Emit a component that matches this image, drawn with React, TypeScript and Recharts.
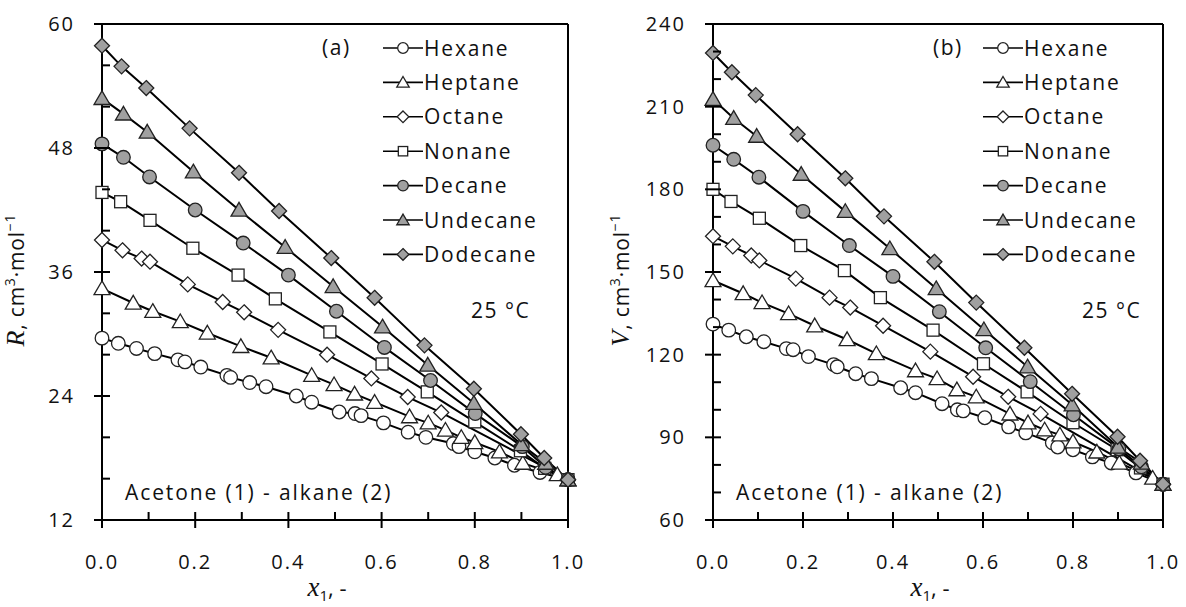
import React from "react"
import { LineChart, Line, XAxis, YAxis, ReferenceLine, Customized } from "recharts"

// mole fraction of acetone, x1, for each acetone (1) + alkane (2) system
const hexaneX = [0, 0.035, 0.074, 0.113, 0.163, 0.178, 0.212, 0.268, 0.276, 0.317, 0.352, 0.417, 0.45, 0.509, 0.543, 0.556, 0.604, 0.657, 0.695, 0.754, 0.766, 0.8, 0.843, 0.885, 0.94, 1]
const heptaneX = [0, 0.067, 0.109, 0.168, 0.226, 0.298, 0.363, 0.45, 0.498, 0.542, 0.585, 0.66, 0.7, 0.737, 0.771, 0.8, 0.853, 0.903, 0.977, 1]
const octaneX = [0, 0.044, 0.085, 0.103, 0.184, 0.259, 0.305, 0.378, 0.483, 0.578, 0.656, 0.728, 1]
const nonaneX = [0, 0.04, 0.103, 0.195, 0.292, 0.372, 0.489, 0.601, 0.698, 0.8, 0.898, 0.95, 1]
const decaneX = [0, 0.046, 0.102, 0.2, 0.303, 0.4, 0.503, 0.606, 0.705, 0.801, 0.902, 0.952, 1]
const undecaneX = [0, 0.046, 0.097, 0.196, 0.294, 0.393, 0.496, 0.602, 0.699, 0.798, 0.9, 0.952, 1]
const dodecaneX = [0, 0.042, 0.095, 0.188, 0.294, 0.38, 0.492, 0.585, 0.692, 0.798, 0.899, 0.949, 1]

// (a) molar refraction R, cm3/mol
const hexaneR = [29.6, 29.1, 28.6, 28.1, 27.5, 27.3, 26.8, 26.0, 25.8, 25.3, 24.9, 24.0, 23.4, 22.45, 22.3, 22.1, 21.4, 20.5, 20.0, 19.4, 19.1, 18.6, 18.0, 17.3, 16.6, 15.9]
const heptaneR = [34.4, 33.0, 32.2, 31.2, 30.1, 28.8, 27.7, 26.0, 25.1, 24.2, 23.4, 22.0, 21.4, 20.7, 20.0, 19.5, 18.6, 17.5, 16.4, 15.9]
const octaneR = [39.1, 38.1, 37.3, 37.0, 34.8, 33.1, 32.1, 30.4, 28.0, 25.7, 23.9, 22.4, 15.9]
const nonaneR = [43.7, 42.8, 41.0, 38.3, 35.7, 33.4, 30.2, 27.1, 24.4, 21.5, 18.7, 17.0, 15.9]
const decaneR = [48.4, 47.1, 45.2, 42.0, 38.8, 35.7, 32.2, 28.7, 25.5, 22.3, 19.1, 17.1, 15.9]
const undecaneR = [52.8, 51.3, 49.55, 45.7, 42.0, 38.4, 34.6, 30.7, 27.0, 23.3, 19.3, 17.5, 15.9]
const dodecaneR = [57.9, 55.9, 53.8, 49.9, 45.6, 41.9, 37.35, 33.5, 28.9, 24.7, 20.3, 18.0, 15.9]

// (b) molar volume V, cm3/mol
const hexaneV = [131.1, 128.9, 126.5, 124.7, 122.2, 121.8, 119.3, 116.4, 115.6, 113.1, 111.3, 108.0, 106.2, 102.2, 100.0, 99.6, 97.1, 93.8, 91.6, 88.0, 86.5, 85.5, 82.9, 80.7, 77.1, 73.0]
const heptaneV = [146.9, 142.2, 138.9, 134.9, 130.5, 125.5, 120.4, 114.2, 111.3, 107.3, 104.7, 98.5, 95.3, 92.7, 90.9, 88.4, 84.7, 80.7, 75.2, 73.0]
const octaneV = [163.0, 159.3, 156.0, 154.2, 147.6, 140.7, 137.1, 130.5, 121.1, 112.0, 104.7, 98.5, 73.0]
const nonaneV = [180.0, 175.6, 169.5, 159.6, 150.5, 140.7, 128.9, 116.7, 106.5, 95.3, 85.5, 78.9, 73.0]
const decaneV = [196.0, 190.9, 184.4, 172.0, 159.6, 148.4, 135.6, 122.5, 110.2, 98.2, 85.8, 79.3, 73.0]
const undecaneV = [212.7, 205.8, 199.3, 185.5, 172.0, 158.5, 144.0, 129.1, 115.6, 101.8, 86.5, 80.7, 73.0]
const dodecaneV = [229.5, 222.5, 214.2, 200.0, 184.0, 170.2, 153.7, 138.9, 122.5, 105.8, 90.2, 81.5, 73.0]

const seriesNames = ["Hexane", "Heptane", "Octane", "Nonane", "Decane", "Undecane", "Dodecane"]
const seriesX = [hexaneX, heptaneX, octaneX, nonaneX, decaneX, undecaneX, dodecaneX]
const seriesR = [hexaneR, heptaneR, octaneR, nonaneR, decaneR, undecaneR, dodecaneR]
const seriesV = [hexaneV, heptaneV, octaneV, nonaneV, decaneV, undecaneV, dodecaneV]
const seriesShapes = ["circle", "triangle", "diamond", "square", "circle", "triangle", "diamond"]
const seriesFills = ["#fff", "#fff", "#fff", "#fff", "#a0a0a0", "#a0a0a0", "#a0a0a0"]

// ticks (majors are the labelled ones)
const xTicks = [0, 0.1, 0.2, 0.3, 0.4, 0.5, 0.6, 0.7, 0.8, 0.9, 1]
const rTicks = [12, 16, 20, 24, 28, 32, 36, 40, 44, 48, 52, 56, 60]
const vTicks = [60, 70, 80, 90, 100, 110, 120, 130, 140, 150, 160, 170, 180, 190, 200, 210, 220, 230, 240]

const SANS = "'Open Sans', sans-serif"
const SERIF = "'Liberation Serif', 'DejaVu Serif', serif"
const TXT = "#111"

function Marker({ cx, cy, shape, fill, k = 1 }: any) {
  if (cx == null || cy == null) return null
  const st = { fill, stroke: "#222", strokeWidth: 1.3 }
  if (shape === "circle") return <circle cx={cx} cy={cy} r={6.8 * k} {...st} />
  if (shape === "square") return <rect x={cx - 6 * k} y={cy - 6 * k} width={12 * k} height={12 * k} {...st} />
  if (shape === "diamond") {
    const h = 7.5 * k
    return <polygon points={`${cx},${cy - h} ${cx + h},${cy} ${cx},${cy + h} ${cx - h},${cy}`} {...st} />
  }
  const h = 7.6 * k
  return <polygon points={`${cx},${cy - h} ${cx + h * 1.05},${cy + h * 0.8} ${cx - h * 1.05},${cy + h * 0.8}`} {...st} />
}

function yTick(isMajor: (v: number) => boolean) {
  return (props: any) => {
    const { x, y, payload } = props
    const major = isMajor(payload.value)
    return (
      <g>
        <line x1={major ? x - 8 : x} x2={x + 8} y1={y} y2={y} stroke="#000" strokeWidth={2} />
        {major && (
          <text x={x - 27} y={y + 7} textAnchor="end" fontFamily={SANS} fontSize={20} letterSpacing={2} fill={TXT}>
            {payload.value}
          </text>
        )}
      </g>
    )
  }
}

function xTick(props: any) {
  const { x, y, payload } = props
  const major = Math.round(payload.value * 10) % 2 === 0
  return (
    <g>
      <line x1={x} x2={x} y1={y - 8} y2={major ? y + 8 : y} stroke="#000" strokeWidth={2} />
      {major && (
        <text x={x} y={y + 49} textAnchor="middle" fontFamily={SANS} fontSize={20} letterSpacing={2} fill={TXT}>
          {payload.value.toFixed(1)}
        </text>
      )}
    </g>
  )
}

// legend drawn inside the plot, top right
function LegendRows({ x0, y0 }: { x0: number; y0: number }) {
  return (
    <g>
      {seriesNames.map((n, i) => {
        const cy = y0 + i * 34.4
        return (
          <g key={n}>
            <line x1={x0} x2={x0 + 40} y1={cy} y2={cy} stroke="#000" strokeWidth={1.6} />
            <Marker cx={x0 + 20} cy={cy} shape={seriesShapes[i]} fill={seriesFills[i]} k={0.78} />
            <text x={x0 + 41} y={cy + 7.5} fontFamily={SANS} fontSize={21} letterSpacing={1.8} fill={TXT}>{n}</text>
          </g>
        )
      })}
    </g>
  )
}

function Panel({ left, width, yAxisWidth, marginRight, ys, domain, ticks, isMajor, tag, qty, labelX }: any) {
  const top = 24
  const plotBottom = 520
  const plotLeft = yAxisWidth
  const plotRight = width - marginRight
  const midX = (plotLeft + plotRight) / 2
  const Annot = () => (
    <g fontFamily={SANS} fill={TXT}>
      <LegendRows x0={383} y0={48} />
      <text x={plotLeft + 220} y={55} fontSize={21} letterSpacing={1.5}>({tag})</text>
      <text x={plotLeft + 369} y={318} fontSize={21} letterSpacing={1.5}>25 °C</text>
      <text x={plotLeft + 23} y={500} fontSize={21} letterSpacing={1.9}>Acetone (1) - alkane (2)</text>
      <text transform={`translate(${labelX}, 280) rotate(-90)`} textAnchor="middle" fontSize={21} letterSpacing={0.8}>
        <tspan fontFamily={SERIF} fontStyle="italic" fontSize={26}>{qty}</tspan>
        <tspan>, cm</tspan>
        <tspan fontSize={14} dy={-9}>3</tspan>
        <tspan dy={9}>·mol</tspan>
        <tspan fontSize={14} dy={-9}>−1</tspan>
      </text>
      <text x={midX - 8} y={596} textAnchor="middle" fontSize={22}>
        <tspan fontFamily={SERIF} fontStyle="italic" fontSize={27}>x</tspan>
        <tspan fontSize={15} dy={5}>1</tspan>
        <tspan dy={-5}>, -</tspan>
      </text>
    </g>
  )
  return (
    <div style={{ position: "absolute", left, top: 0 }}>
      <LineChart width={width} height={607} margin={{ top, right: marginRight, bottom: 0, left: 0 }}>
        <XAxis
          type="number"
          dataKey="x"
          domain={[0, 1]}
          ticks={xTicks}
          height={607 - plotBottom}
          axisLine={{ stroke: "#000", strokeWidth: 2 }}
          tickLine={false}
          tickSize={0}
          tickMargin={0}
          tick={xTick}
          interval={0}
        />
        <YAxis
          type="number"
          dataKey="y"
          domain={domain}
          ticks={ticks}
          width={yAxisWidth}
          axisLine={{ stroke: "#000", strokeWidth: 2 }}
          tickLine={false}
          tickSize={0}
          tickMargin={0}
          tick={yTick(isMajor)}
          interval={0}
        />
        <ReferenceLine y={domain[1]} stroke="#000" strokeWidth={2} />
        <ReferenceLine x={1} stroke="#000" strokeWidth={2} />
        {seriesNames.map((n, i) => (
          <Line
            key={n}
            name={n}
            data={seriesX[i].map((x: number, j: number) => ({ x, y: ys[i][j] }))}
            dataKey="y"
            type="linear"
            stroke="#000"
            strokeWidth={2}
            isAnimationActive={false}
            dot={(p: any) => <Marker key={`${n}-${p.index}`} cx={p.cx} cy={p.cy} shape={seriesShapes[i]} fill={seriesFills[i]} />}
            activeDot={false}
          />
        ))}
        <Customized component={Annot} />
      </LineChart>
    </div>
  )
}

export default function App() {
  return (
    <div style={{ position: "absolute", left: 0, top: 0, width: 1186, height: 607, background: "#fff" }}>
      <Panel left={0} width={600} yAxisWidth={102} marginRight={32} ys={seriesR} domain={[12, 60]} ticks={rTicks}
        isMajor={(v: number) => v % 12 === 0} tag="a" qty="R" labelX={24} />
      <Panel left={600} width={586} yAxisWidth={113} marginRight={23} ys={seriesV} domain={[60, 240]} ticks={vTicks}
        isMajor={(v: number) => v % 30 === 0} tag="b" qty="V" labelX={29} />
    </div>
  )
}
